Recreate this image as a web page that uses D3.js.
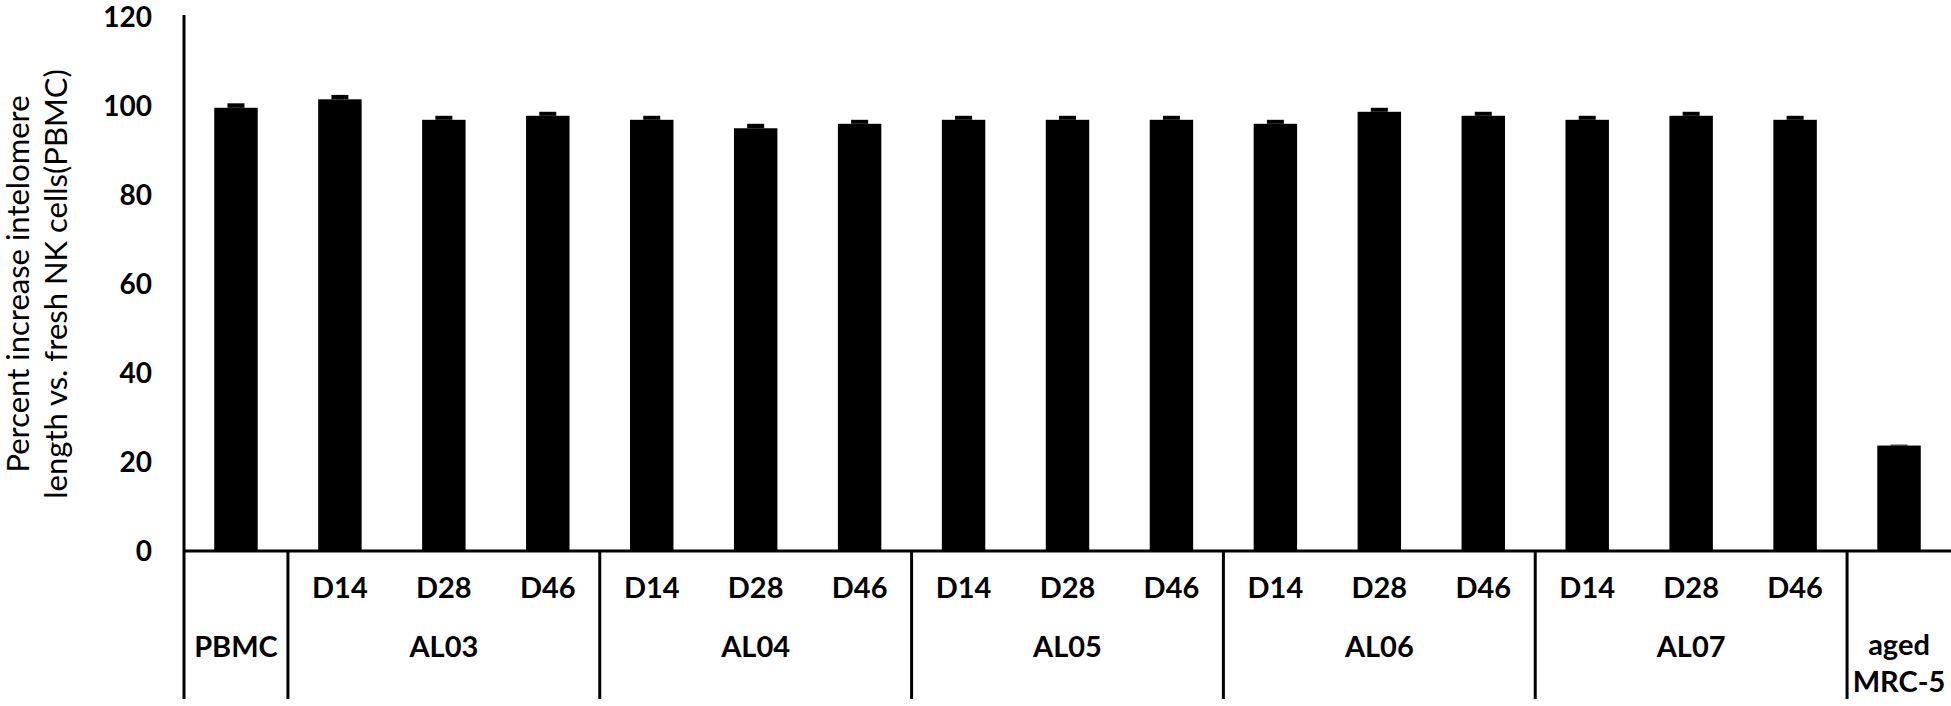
<!DOCTYPE html>
<meta charset="utf-8">
<style>
  body { margin: 0; background: #fff; }
  svg { display: block; }
  text { font-family: Lato, "Open Sans", sans-serif; fill: #000; }
</style>
<svg></svg>
<script src="https://cdn.jsdelivr.net/npm/d3@7"></script>
<script>

// data
var groupNames = ["PBMC", "AL03", "AL04", "AL05", "AL06", "AL07", "aged MRC-5"]
var groupSizes = [1, 3, 3, 3, 3, 3, 1]
var dayLabels = ["D14", "D28", "D46"]
var values = [99.6, 101.5, 96.9, 97.8, 96.9, 95.0, 96.0, 96.9, 96.9, 96.9, 96.0, 98.7, 97.8, 96.9, 97.8, 96.9, 23.7]
var errors = [1.0, 1.0, 0.9, 0.9, 0.9, 1.0, 0.9, 0.9, 0.9, 0.9, 0.9, 0.9, 0.9, 0.9, 0.9, 0.9, 0.2]
var yTicks = [0, 20, 40, 60, 80, 100, 120]
var yTitle = ["Percent increase intelomere", "length vs. fresh NK cells(PBMC)"]

var W = 1951, H = 706,
    plotLeft = 184, plotRight = 1951, plotTop = 17, plotBase = 551, axisBottom = 699

var svg = d3.select("svg").attr("width", W).attr("height", H)

// one entry per bar: which group, which day label
var bars = []
groupNames.forEach(function(g, gi){
  for(var k = 0; k < groupSizes[gi]; k++)
    bars.push({group: g, gi: gi, day: groupSizes[gi] > 1 ? dayLabels[k] : null})
})
bars.forEach(function(b, i){ b.i = i; b.value = values[i]; b.err = errors[i] })

var idx = bars.map(function(d){ return d.i })

var slot = d3.scaleBand().domain(idx).range([plotLeft, plotRight])
var x = d3.scaleBand().domain(idx).range([plotLeft, plotRight])
  .paddingInner(0.582).paddingOuter(0.291)
var y = d3.scaleLinear().domain([0, 120]).range([plotBase, plotTop])

// bars
svg.append("g").selectAll("rect")
  .data(bars)
  .enter().append("rect")
    .attr("x", function(d){ return x(d.i) })
    .attr("width", x.bandwidth())
    .attr("y", function(d){ return y(d.value) })
    .attr("height", function(d){ return y(0) - y(d.value) })
    .attr("fill", "#000")

// error bars (thick whisker + cap, only upper half visible)
var capW = 17
svg.append("g").selectAll("rect")
  .data(bars)
  .enter().append("rect")
    .attr("x", function(d){ return x(d.i) + x.bandwidth() / 2 - capW / 2 })
    .attr("width", capW)
    .attr("y", function(d){ return y(d.value + d.err) })
    .attr("height", function(d){ return y(d.value) - y(d.value + d.err) })
    .attr("fill", "#000")

// axes lines
svg.append("line")
  .attr("x1", plotLeft).attr("x2", plotLeft)
  .attr("y1", y(120) - 2).attr("y2", axisBottom)
  .attr("stroke", "#000").attr("stroke-width", 3)
svg.append("line")
  .attr("x1", plotLeft).attr("x2", plotRight)
  .attr("y1", plotBase).attr("y2", plotBase)
  .attr("stroke", "#000").attr("stroke-width", 3)

// y tick labels
svg.append("g").selectAll("text")
  .data(yTicks)
  .enter().append("text")
    .attr("x", 152)
    .attr("y", function(d){ return y(d) })
    .attr("dy", "0.36em")
    .attr("text-anchor", "end")
    .attr("font-size", 28)
    .attr("font-weight", "bold")
    .text(function(d){ return d })

// group separators below the axis
var ends = []
groupSizes.reduce(function(acc, n){ ends.push(acc + n); return acc + n }, 0)
svg.append("g").selectAll("line")
  .data(ends.slice(0, -1))
  .enter().append("line")
    .attr("x1", function(d){ return slot(d) })
    .attr("x2", function(d){ return slot(d) })
    .attr("y1", plotBase).attr("y2", axisBottom)
    .attr("stroke", "#000").attr("stroke-width", 3)

// day labels
svg.append("g").selectAll("text")
  .data(bars.filter(function(d){ return d.day }))
  .enter().append("text")
    .attr("x", function(d){ return slot(d.i) + slot.bandwidth() / 2 })
    .attr("y", 598)
    .attr("text-anchor", "middle")
    .attr("font-size", 29)
    .attr("font-weight", "bold")
    .text(function(d){ return d.day })

// group labels
var starts = ends.map(function(e, i){ return e - groupSizes[i] })
groupNames.forEach(function(g, gi){
  var cx = (slot(starts[gi]) + slot(ends[gi] - 1) + slot.bandwidth()) / 2
  var words = g === "aged MRC-5" ? ["aged", "MRC-5"] : [g]
  var t = svg.append("text")
    .attr("x", cx)
    .attr("y", words.length > 1 ? 655 : 657)
    .attr("text-anchor", "middle")
    .attr("font-size", 29)
    .attr("font-weight", "bold")
  words.forEach(function(w, k){
    t.append("tspan").attr("x", cx).attr("dy", k ? 37 : 0).text(w)
  })
})

// y axis title
var title = svg.append("text")
  .attr("transform", "translate(0," + ((y(0) + y(120)) / 2) + ") rotate(-90)")
  .attr("text-anchor", "middle")
  .attr("font-size", 31)
title.selectAll("tspan")
  .data(yTitle)
  .enter().append("tspan")
    .attr("x", 0)
    .attr("y", function(d, i){ return 29 + i * 38 })
    .text(function(d){ return d })

</script>
